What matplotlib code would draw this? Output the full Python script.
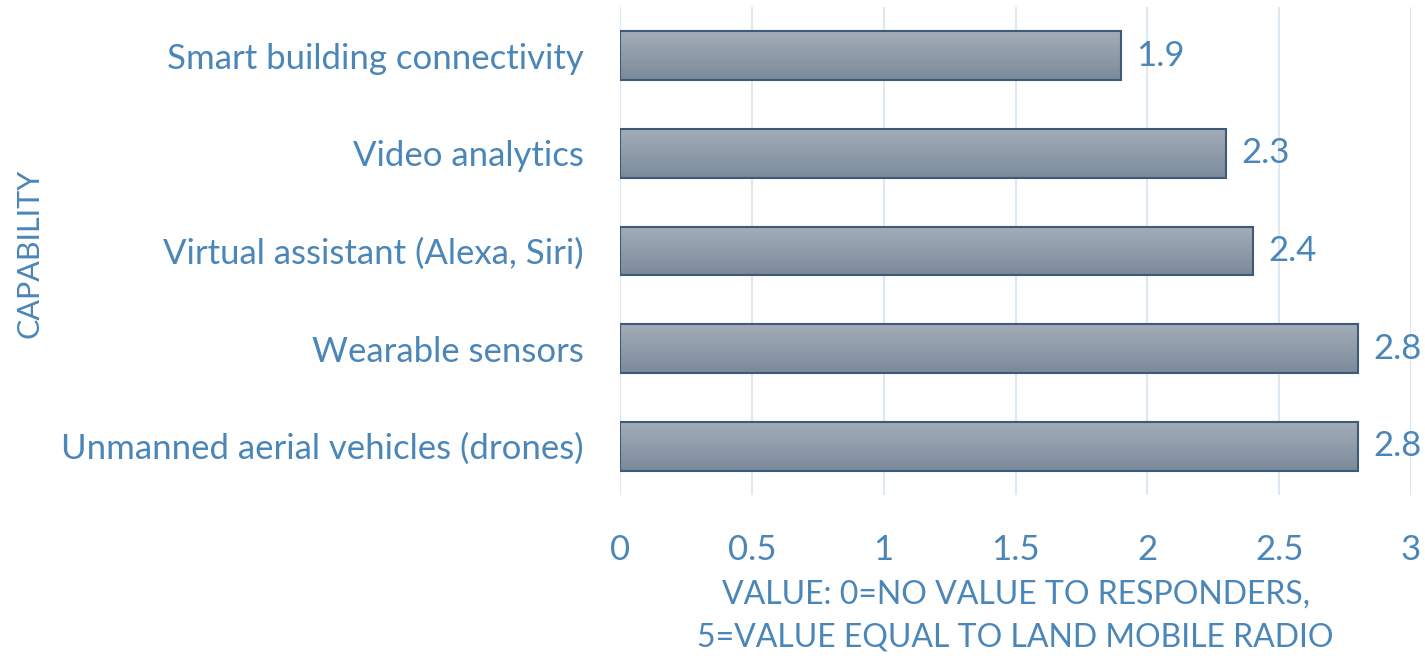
import matplotlib
matplotlib.use("Agg")
import matplotlib.pyplot as plt
import numpy as np
from matplotlib.colors import LinearSegmentedColormap

categories = ["Unmanned aerial vehicles (drones)", "Wearable sensors",
              "Virtual assistant (Alexa, Siri)", "Video analytics",
              "Smart building connectivity"]
values = [2.8, 2.8, 2.4, 2.3, 1.9]
value_labels = ["2.8", "2.8", "2.4", "2.3", "1.9"]
xticks = [0, 0.5, 1, 1.5, 2, 2.5, 3]
xtick_labels = ["0", "0.5", "1", "1.5", "2", "2.5", "3"]

plt.rcParams['font.family'] = ['Lato', 'DejaVu Sans']
txt = '#4a86b8'

fig = plt.figure(figsize=(14.25, 6.59), dpi=100)
ax = fig.add_axes([620/1425, 1-495/659, (1411-620)/1425, (495-7)/659])

y = np.arange(len(categories))
bars = ax.barh(y, values, height=0.5, color='none', edgecolor='#3d5b78', linewidth=1.5, zorder=3)

grad = np.linspace(0, 1, 256).reshape(-1, 1)
cmap = LinearSegmentedColormap.from_list('g', ['#7b8a9b', '#a3adb8'])
for b in bars:
    x0, y0 = b.get_x(), b.get_y()
    w, h = b.get_width(), b.get_height()
    im = ax.imshow(grad, extent=(x0, x0 + w, y0 + h, y0), aspect='auto', cmap=cmap,
                   origin='upper', zorder=2)
    im.set_clip_path(b)

for yi, v, lab in zip(y, values, value_labels):
    ax.annotate(lab, (v, yi), xytext=(11, 0), textcoords='offset points',
                va='center', ha='left', fontsize=25, color=txt)

ax.set_xlim(0, 3)
ax.set_ylim(-0.5, len(categories) - 0.5)
ax.set_xticks(xticks)
ax.set_xticklabels(xtick_labels, fontsize=25, color=txt)
ax.set_yticks(y)
ax.set_yticklabels(categories, fontsize=25, color=txt)
ax.tick_params(axis='both', length=0)
ax.tick_params(axis='x', pad=28)
ax.tick_params(axis='y', pad=26)
ax.grid(axis='x', color='#dde8f2', linewidth=1.5, zorder=0)
ax.set_axisbelow(True)
for s in ax.spines.values():
    s.set_visible(False)

ax.set_xlabel("VALUE: 0=NO VALUE TO RESPONDERS,\n5=VALUE EQUAL TO LAND MOBILE RADIO",
              fontsize=23, color=txt, labelpad=10, linespacing=1.55)
fig.text(30/1425, 1-253/659, "CAPABILITY", rotation=90, fontsize=22, color=txt,
         ha='center', va='center')

fig.savefig("out.png", dpi=100)
